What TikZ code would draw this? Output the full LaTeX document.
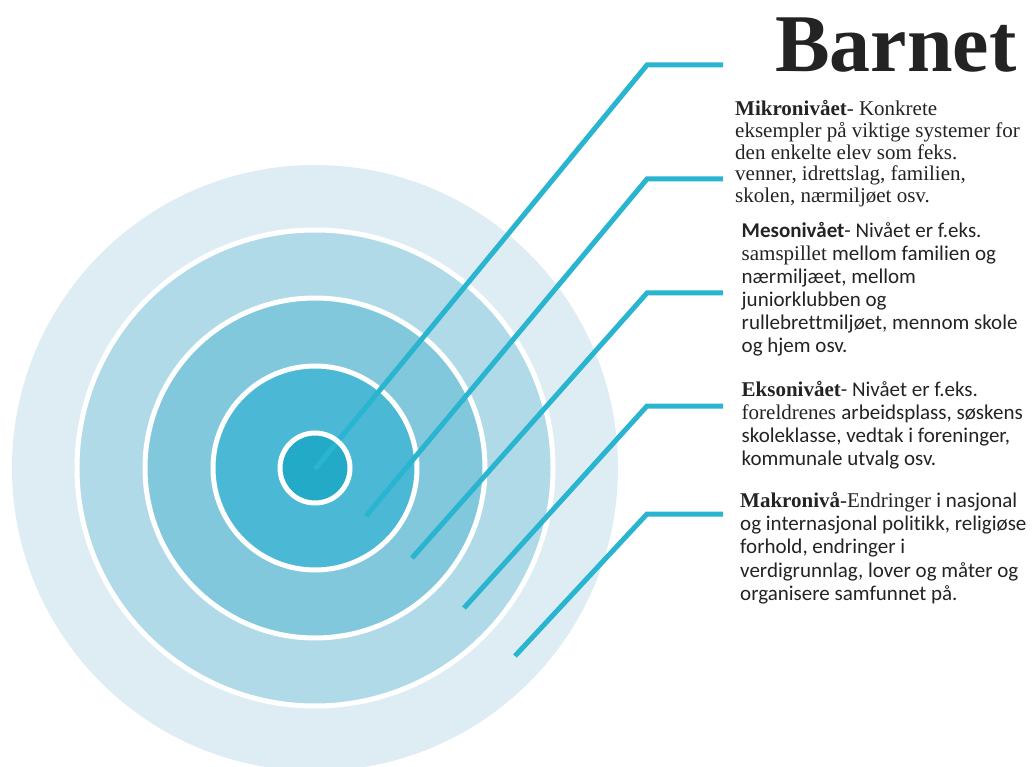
\documentclass[tikz,border=0pt]{standalone}
\usepackage{fontspec}
\setmainfont{Liberation Serif}
\newfontfamily\calfont[Ligatures=NoCommon]{Carlito}
\definecolor{ring5}{RGB}{222,237,244}
\definecolor{ring4}{RGB}{176,218,232}
\definecolor{ring3}{RGB}{130,200,221}
\definecolor{ring2}{RGB}{75,184,213}
\definecolor{ring1}{RGB}{35,170,199}
\definecolor{leader}{RGB}{41,180,208}
\definecolor{txt}{RGB}{35,35,35}
\tikzset{
  disc/.style={fill=#1, draw=white, line width=5pt},
  leaderline/.style={draw=leader, line width=5pt, line join=miter},
  textblock/.style={anchor=base west, inner sep=0pt, text=txt},
}
\begin{document}
\begin{tikzpicture}[x=1pt,y=-1pt]
\useasboundingbox (0,0) rectangle (1034,767);
\coordinate (c) at (315,468);
% rings
\fill[ring5] (c) circle (303);
\path[disc=ring4] (c) circle (238);
\path[disc=ring3] (c) circle (170);
\path[disc=ring2] (c) circle (102);
% leader lines
\coordinate (s1) at (315,469); \coordinate (k1) at (647,65);  \coordinate (e1) at (723,65);
\coordinate (s2) at (366,516); \coordinate (k2) at (647,179); \coordinate (e2) at (723,179);
\coordinate (s3) at (412,558); \coordinate (k3) at (647,293); \coordinate (e3) at (723,293);
\coordinate (s4) at (464,608); \coordinate (k4) at (647,406); \coordinate (e4) at (723,406);
\coordinate (s5) at (515,656); \coordinate (k5) at (647,514); \coordinate (e5) at (723,514);
\draw[leaderline] (s2) -- (k2) -- (e2);
\draw[leaderline] (s3) -- (k3) -- (e3);
\draw[leaderline] (s4) -- (k4) -- (e4);
\draw[leaderline] (s5) -- (k5) -- (e5);
\fill[ring1] (c) circle (35);
\draw[leaderline] (s1) -- (k1) -- (e1);
\draw[white, line width=5pt] (c) circle (35);
% title
\node[textblock, font=\fontsize{82}{82}\selectfont\bfseries] (title) at (775,71.7) {Barnet};
% text blocks
\node[textblock, font=\fontsize{21}{21.5}\selectfont] (mikro) at (735,116) {\begin{tabular}[t]{@{}l@{}}
\textbf{Mikronivået}- Konkrete\\
eksempler på viktige systemer for\\
den enkelte elev som feks.\\
venner, idrettslag, familien,\\
skolen, nærmiljøet osv.
\end{tabular}};
\node[textblock, font=\fontsize{21}{23}\selectfont] (meso) at (741.5,238) {\begin{tabular}[t]{@{}l@{}}
{\calfont\bfseries Mesonivået}{\calfont - Nivået er f.eks.}\\
samspillet {\calfont mellom familien og}\\
{\calfont nærmiljæet, mellom}\\
{\calfont juniorklubben og}\\
{\calfont rullebrettmiljøet, mennom skole}\\
{\calfont og hjem osv.}
\end{tabular}};
\node[textblock, font=\fontsize{21}{23.2}\selectfont] (ekso) at (741.5,396) {\begin{tabular}[t]{@{}l@{}}
\textbf{Eksonivået}{\calfont - Nivået er f.eks.}\\
foreldrenes {\calfont arbeidsplass, søskens}\\
{\calfont skoleklasse, vedtak i foreninger,}\\
{\calfont kommunale utvalg osv.}
\end{tabular}};
\node[textblock, font=\fontsize{21}{23.4}\selectfont] (makro) at (740,507) {\begin{tabular}[t]{@{}l@{}}
\textbf{Makronivå}-Endringer {\calfont i nasjonal}\\
{\calfont og internasjonal politikk, religiøse}\\
{\calfont forhold, endringer i}\\
{\calfont verdigrunnlag, lover og måter og}\\
{\calfont organisere samfunnet på.}
\end{tabular}};
\end{tikzpicture}
\end{document}
